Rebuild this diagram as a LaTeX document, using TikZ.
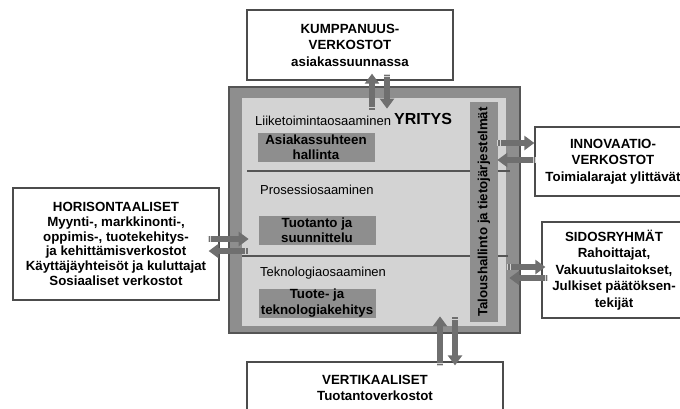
\documentclass[tikz,border=0pt]{standalone}
\usepackage{fontspec}
\setmainfont{Liberation Sans}
\usetikzlibrary{arrows.meta,calc}

\definecolor{framegray}{HTML}{555555}
\definecolor{midgray}{HTML}{8E8E8E}
\definecolor{palegray}{HTML}{D3D3D3}
\definecolor{arrowgray}{HTML}{6F6F6F}

\newcommand\boxfont{\bfseries\fontsize{13.3}{16.5}\selectfont}
\newcommand\areafont{\fontsize{13}{15}\selectfont}
\newcommand\unitfont{\bfseries\fontsize{13.3}{15.5}\selectfont}

\begin{document}
\begin{tikzpicture}[x=1pt, y=-1pt,
  netbox/.style={draw=black!70, line width=1.3pt, fill=white, align=center,
    font=\boxfont, inner sep=0pt},
  unitbox/.style={fill=midgray, align=center, font=\unitfont, inner sep=0pt,
    minimum width=117pt, minimum height=29pt},
  area/.style={anchor=west, font=\areafont, inner sep=0pt},
  flow/.style={line width=6.5pt, draw=arrowgray,
    -{Triangle[width=14pt,length=10pt]},
    postaction={draw=white!70!arrowgray, line width=6.5pt, -,
      dash pattern=on 0.9pt off 1.6pt on 0.9pt off 999pt}}]

  \useasboundingbox (0,0) rectangle (680,408);
  \clip (0,0) rectangle (680,408);

  % Company square
  \node[draw=framegray, line width=1.6pt, fill=midgray, inner sep=0pt,
    minimum width=291pt, minimum height=246pt] (yritys) at (374.5,210) {};
  \node[fill=palegray, inner sep=0pt,
    minimum width=264pt, minimum height=228pt] (inner) at (374,212) {};

  % Dividers
  \draw[framegray, line width=1.2pt] (247,171) -- (510,171);
  \draw[framegray, line width=1.2pt] (242,256) -- (508,256);

  % Vertical bar
  \node[fill=midgray, rotate=90, font=\unitfont, inner sep=0pt,
    minimum width=220pt, minimum height=28pt] (talous) at (484,212)
    {Taloushallinto ja tietojärjestelmät};

  % Competence areas
  \node[area] (liike) at (255,121) {Liiketoimintaosaaminen};
  \node[anchor=west, inner sep=0pt, font=\bfseries\fontsize{16}{18}\selectfont]
    (yritysname) at (394,119) {YRITYS};
  \node[area] (prosessi) at (260,190) {Prosessiosaaminen};
  \node[area] (tekno) at (260,273) {Teknologiaosaaminen};

  \node[unitbox] (asiakas) at (316,147) {Asiakassuhteen\\hallinta};
  \node[unitbox] (tuotanto) at (317,230) {Tuotanto ja\\suunnittelu};
  \node[unitbox] (tuote) at (317,303) {Tuote- ja\\teknologiakehitys};

  % Networks
  \node[netbox, minimum width=206pt, minimum height=70pt] (kump) at (350,45)
    {KUMPPANUUS-\\VERKOSTOT\\asiakassuunnassa};
  \node[netbox, minimum width=206pt, minimum height=112pt,
    font={\bfseries\fontsize{13.3}{14.8}\selectfont}] (horis) at (116,244)
    {HORISONTAALISET\\Myynti-, markkinonti-,\\oppimis-, tuotekehitys-\\
     ja kehittämisverkostot\\Käyttäjäyhteisöt ja kuluttajat\\Sosiaaliset verkostot};
  \node[netbox, minimum width=156pt, minimum height=69pt] (innov) at (613,161.5)
    {INNOVAATIO-\\VERKOSTOT\\Toimialarajat ylittävät};
  \node[netbox, minimum width=144pt, minimum height=96pt] (sidos) at (614,270)
    {SIDOSRYHMÄT\\Rahoittajat,\\Vakuutuslaitokset,\\Julkiset päätöksen-\\tekijät};
  \node[netbox, minimum width=256pt, minimum height=52pt] (vert) at (375,388)
    {VERTIKAALISET\\Tuotantoverkostot};

  % Arrows
  \draw[flow] ($(kump.south)+(22,30)$) -- ($(kump.south)+(22,-7)$);
  \draw[flow] ($(kump.south)+(37,-7)$) -- ($(kump.south)+(37,28)$);

  \draw[flow] ($(horis.east)+(-12,-5)$) -- ($(horis.east)+(29,-5)$);
  \draw[flow] ($(horis.east)+(29,7)$) -- ($(horis.east)+(-11,7)$);

  \draw[flow] ($(innov.west)+(-37,-18.5)$) -- ($(innov.west)+(0,-18.5)$);
  \draw[flow] ($(innov.west)+(2,-1.5)$) -- ($(innov.west)+(-37,-1.5)$);

  \draw[flow] ($(sidos.west)+(-34,-3)$) -- ($(sidos.west)+(4,-3)$);
  \draw[flow] ($(sidos.west)+(7,8)$) -- ($(sidos.west)+(-32,8)$);

  \draw[flow] ($(vert.north)+(65,5)$) -- ($(vert.north)+(65,-45)$);
  \draw[flow] ($(vert.north)+(80,-45)$) -- ($(vert.north)+(80,4)$);

\end{tikzpicture}
\end{document}
